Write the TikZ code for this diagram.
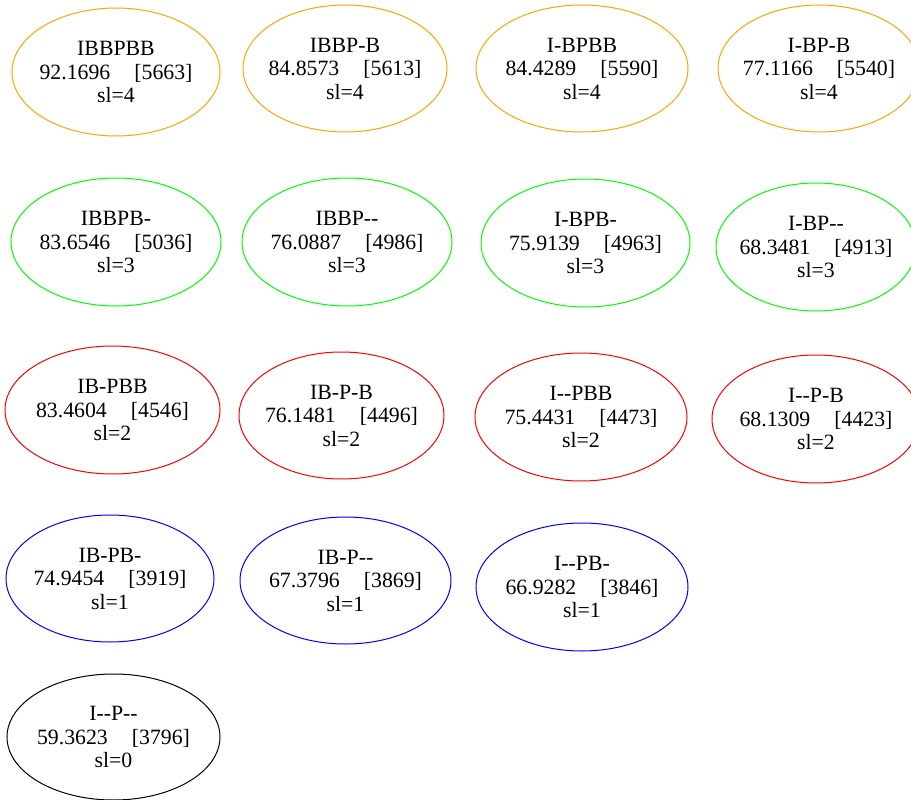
\documentclass[tikz,border=0pt]{standalone}
\usepackage{fontspec}
\setmainfont{Liberation Serif}[Ligatures=TeXOff]
\usetikzlibrary{shapes.geometric}
\definecolor{gvorange}{HTML}{FFA500}
\definecolor{gvgreen}{HTML}{00FF00}
\definecolor{gvred}{HTML}{FF0000}
\definecolor{gvblue}{HTML}{0000FF}
\tikzset{
  st/.style={ellipse, draw=#1, line width=1pt, inner sep=0pt},
  ew/.style 2 args={minimum width=#1pt, minimum height=#2pt},
  txt/.style={align=center, inner sep=0pt, font=\fontsize{21.8pt}{23.5pt}\selectfont, text=black}
}
\newcommand{\lab}[4]{#1\\#2\hspace{24pt}[#3]\\sl=#4}
\begin{document}
\begin{tikzpicture}[x=1pt,y=-1pt]
\useasboundingbox (0,0) rectangle (911,800);
% row sl=4
\node[st=gvorange, ew={208}{128}] (n1) at (116,72) {};
\node[txt] (t1) at (n1.center) {\lab{IBBPBB}{92.1696}{5663}{4}};
\node[st=gvorange, ew={204}{127}] (n2) at (345,68.5) {};
\node[txt] (t2) at (n2.center) {\lab{IBBP-B}{84.8573}{5613}{4}};
\node[st=gvorange, ew={212}{127}] (n3) at (582,68.5) {};
\node[txt] (t3) at (n3.center) {\lab{I-BPBB}{84.4289}{5590}{4}};
\node[st=gvorange, ew={202}{127}] (n4) at (819,68.5) {};
\node[txt] (t4) at (n4.center) {\lab{I-BP-B}{77.1166}{5540}{4}};
% row sl=3
\node[st=gvgreen, ew={210}{128}] (n5) at (116,242) {};
\node[txt] (t5) at (n5.center) {\lab{IBBPB-}{83.6546}{5036}{3}};
\node[st=gvgreen, ew={210}{128}] (n6) at (347,242) {};
\node[txt] (t6) at (n6.center) {\lab{IBBP--}{76.0887}{4986}{3}};
\node[st=gvgreen, ew={209}{128}] (n7) at (585.5,243) {};
\node[txt] (t7) at (n7.center) {\lab{I-BPB-}{75.9139}{4963}{3}};
\node[st=gvgreen, ew={200}{128}] (n8) at (816,247) {};
\node[txt] (t8) at (n8.center) {\lab{I-BP--}{68.3481}{4913}{3}};
% row sl=2
\node[st=gvred, ew={215}{128}] (n9) at (112.5,410) {};
\node[txt] (t9) at (n9.center) {\lab{IB-PBB}{83.4604}{4546}{2}};
\node[st=gvred, ew={205}{127}] (n10) at (341.5,415.5) {};
\node[txt] (t10) at (n10.center) {\lab{IB-P-B}{76.1481}{4496}{2}};
\node[st=gvred, ew={212}{128}] (n11) at (581,417) {};
\node[txt] (t11) at (n11.center) {\lab{I--PBB}{75.4431}{4473}{2}};
\node[st=gvred, ew={208}{128}] (n12) at (816,419) {};
\node[txt] (t12) at (n12.center) {\lab{I--P-B}{68.1309}{4423}{2}};
% row sl=1
\node[st=gvblue, ew={208}{127}] (n13) at (110,578.5) {};
\node[txt] (t13) at (n13.center) {\lab{IB-PB-}{74.9454}{3919}{1}};
\node[st=gvblue, ew={211}{127}] (n14) at (345.5,580.5) {};
\node[txt] (t14) at (n14.center) {\lab{IB-P--}{67.3796}{3869}{1}};
\node[st=gvblue, ew={212}{128}] (n15) at (582,587) {};
\node[txt] (t15) at (n15.center) {\lab{I--PB-}{66.9282}{3846}{1}};
% row sl=0
\node[st=black, ew={213}{126}] (n16) at (113.5,737) {};
\node[txt] (t16) at (n16.center) {\lab{I--P--}{59.3623}{3796}{0}};
\end{tikzpicture}
\end{document}
